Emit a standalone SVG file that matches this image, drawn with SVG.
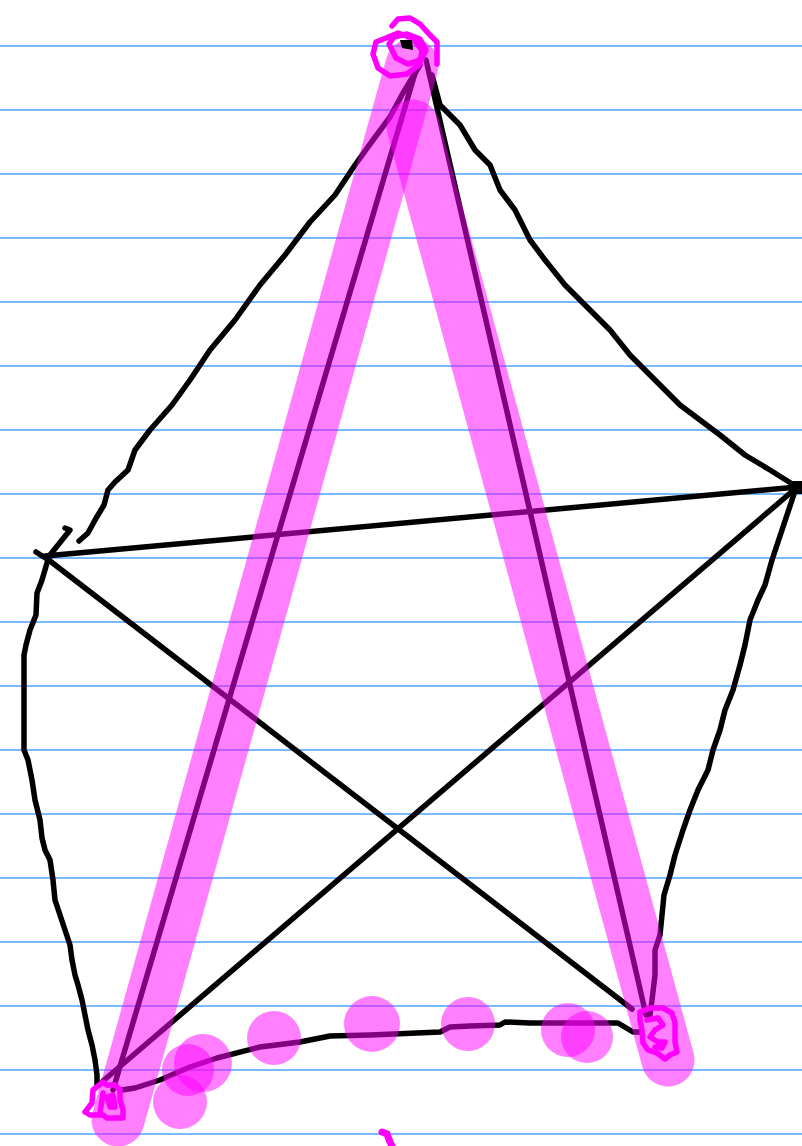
<svg xmlns="http://www.w3.org/2000/svg" width="802" height="1146" viewBox="0 0 802 1146">
<style>
.rule{stroke:#4aa3ff;stroke-width:1.5}
.ink{fill:none;stroke:#000;stroke-width:5.5;stroke-linecap:round;stroke-linejoin:round}
.hl{fill:none;stroke:#ff00ff;stroke-opacity:0.5;stroke-width:53;stroke-linecap:round}
.dot{fill:#ff00ff;fill-opacity:0.5}
.mark{fill:none;stroke:#ff00ff;stroke-width:5.5;stroke-linecap:round;stroke-linejoin:round}
</style>
<rect width="802" height="1146" fill="#fff"/>
<g id="paper-lines">
<line class="rule" x1="0" y1="46" x2="802" y2="46"/>
<line class="rule" x1="0" y1="110" x2="802" y2="110"/>
<line class="rule" x1="0" y1="174" x2="802" y2="174"/>
<line class="rule" x1="0" y1="238" x2="802" y2="238"/>
<line class="rule" x1="0" y1="302" x2="802" y2="302"/>
<line class="rule" x1="0" y1="366" x2="802" y2="366"/>
<line class="rule" x1="0" y1="430" x2="802" y2="430"/>
<line class="rule" x1="0" y1="494" x2="802" y2="494"/>
<line class="rule" x1="0" y1="558" x2="802" y2="558"/>
<line class="rule" x1="0" y1="622" x2="802" y2="622"/>
<line class="rule" x1="0" y1="686" x2="802" y2="686"/>
<line class="rule" x1="0" y1="750" x2="802" y2="750"/>
<line class="rule" x1="0" y1="814" x2="802" y2="814"/>
<line class="rule" x1="0" y1="878" x2="802" y2="878"/>
<line class="rule" x1="0" y1="942" x2="802" y2="942"/>
<line class="rule" x1="0" y1="1006" x2="802" y2="1006"/>
<line class="rule" x1="0" y1="1070" x2="802" y2="1070"/>
<line class="rule" x1="0" y1="1134" x2="802" y2="1134"/>
</g>
<g id="connectors">
<path class="ink" d="M420,65 L403,93 L390,117 L373,140 L355,165 L335,195 L310,222 L285,255 L260,285 L235,320 L210,350 L190,380 L172,405 L150,430 L135,450 L128,470 L115,482 L108,490 L104,505 L95,520 L88,533 L79,541"/>
<path class="ink" d="M432,75 L440,105 L460,125 L475,150 L490,165 L500,190 L515,210 L530,240 L545,260 L565,285 L590,310 L610,330 L630,355 L655,380 L680,405 L700,420 L720,435 L745,455 L770,470 L797,487"/>
<path class="ink" d="M45,556 L797,487"/>
<path class="ink" d="M36,552 L50,561 L632,1009"/>
<path class="ink" d="M795,489 L103,1081"/>
<path class="ink" d="M419,60 L113,1090"/>
<path class="ink" d="M426,60 L646,1015"/>
<path class="ink" d="M65,528 L70,530 L62,540 L50,555 L47,563 L42,580 L37,593 L36,615 L30,630 L26,645 L24,655 L24,750 L28,760 L32,780 L35,800 L40,820 L42,838 L45,850 L50,860 L53,880 L55,900 L60,915 L65,930 L70,945 L72,960 L75,975 L78,985 L82,1000 L85,1015 L88,1030 L92,1045 L95,1060 L97,1075 L97,1085"/>
<path class="ink" d="M794,494 L782,530 L772,560 L765,585 L758,600 L750,620 L745,645 L740,665 L733,690 L725,710 L720,730 L713,750 L708,770 L698,790 L690,810 L683,830 L675,855 L670,875 L664,895 L662,915 L660,935 L655,950 L655,975 L652,1000 L650,1015"/>
<path class="ink" d="M122,1090 L135,1088 L160,1080 L190,1067 L217,1058 L260,1047 L300,1042 L330,1036 L370,1035 L440,1032 L450,1027 L470,1026 L500,1025 L505,1022 L530,1023 L618,1023 L633,1032 L640,1032"/>
</g>
<g id="node-right">
<rect x="789" y="481" width="13" height="13" fill="#000"/>
</g>
<g id="node-left"/>
<g id="highlights">
<path class="hl" d="M412,65 L118,1120"/>
<path class="hl" d="M413,126 L668,1060"/>
<circle class="dot" cx="203" cy="1063" r="29"/>
<circle class="dot" cx="188" cy="1070" r="26"/>
<circle class="dot" cx="180" cy="1102" r="27"/>
<circle class="dot" cx="274" cy="1038" r="27"/>
<circle class="dot" cx="372" cy="1024" r="28"/>
<circle class="dot" cx="468" cy="1024" r="27"/>
<circle class="dot" cx="568" cy="1030" r="27"/>
<circle class="dot" cx="587" cy="1037" r="26"/>
</g>
<g id="node-top">
<path class="mark" d="M386,38 L398,33 L412,38 L422,50 L420,64 L407,74 L390,76 L378,68 L373,54 L376,42 L386,38"/>
<path class="mark" d="M392,26 L398,19 L410,18 L420,24 L430,35 L437,42 L437,64"/>
<path class="mark" d="M396,58 L389,44 L394,37 L407,34 L420,39 L426,50 L421,60 L408,64 L396,58"/>
<path d="M400,40 L412,40 L413,50 L402,48 Z" fill="#000"/>
</g>
<g id="node-bottom-left">
<path class="mark" d="M107,1085 L103,1082 L93,1090 L92,1103 L85,1112 L90,1115 L103,1115 L107,1118 L123,1118 L123,1110 L120,1100 L120,1090 L115,1085 L107,1085"/>
<path class="mark" d="M107,1097 L113,1095 L115,1107 L110,1107 L107,1097"/>
<path class="mark" d="M103,1093 L100,1113"/>
</g>
<g id="node-bottom-right">
<path class="mark" d="M640,1012 L650,1008 L663,1008 L672,1013 L675,1023 L675,1042 L677,1052 L670,1055 L665,1059 L657,1053 L648,1050 L643,1043 L642,1030 L640,1020 L640,1012"/>
<path class="mark" d="M647,1020 L658,1018 L663,1025 L655,1030 L650,1037 L658,1042 L665,1042 L662,1048 L655,1047"/>
</g>
<path d="M382,1132 L387,1134 L390,1142 L392,1146" fill="none" stroke="#ff00ff" stroke-width="7" stroke-linecap="round"/>
</svg>
